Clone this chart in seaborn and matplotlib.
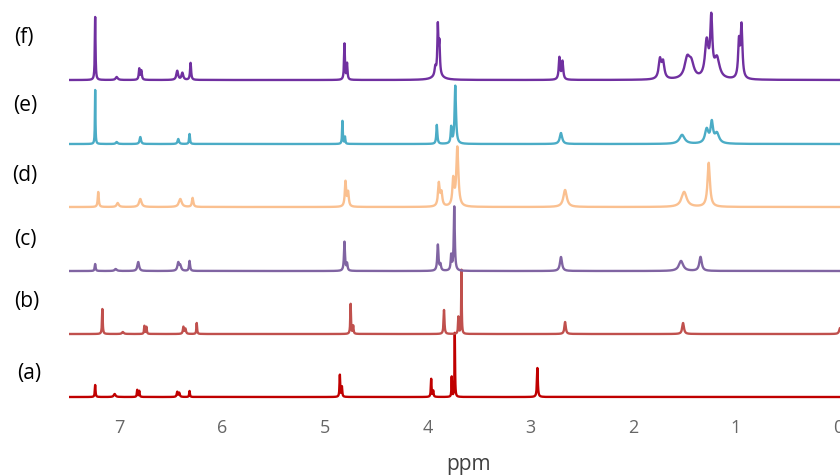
import numpy as np
import pandas as pd
import matplotlib
matplotlib.use("Agg")
import matplotlib.pyplot as plt
import seaborn as sns

# Stacked 1H NMR spectra, (a) at the bottom to (f) at the top.
# Each trace is a sum of Lorentzian lines: shift (ppm), height, half-width (ppm).
trace_names = ["(a)", "(b)", "(c)", "(d)", "(e)", "(f)"]
trace_colors = ["#C00000", "#C0504D", "#8064A2", "#FAC090", "#4BACC6", "#7030A0"]
trace_offsets = [0, 63, 126, 190, 253, 317]

a_shift = [7.24, 7.05, 6.83, 6.81, 6.44, 6.42, 6.32, 4.855, 4.835, 3.965, 3.945, 3.765, 3.735, 2.93]
a_height = [12, 3, 7, 6, 5, 4, 6, 22, 10, 18, 6, 20, 64, 29]
a_width = [0.004, 0.01, 0.004, 0.004, 0.006, 0.006, 0.004, 0.004, 0.004, 0.004, 0.004, 0.003, 0.003, 0.005]

b_shift = [7.17, 6.97, 6.76, 6.74, 6.38, 6.36, 6.25, 4.75, 4.725, 3.84, 3.70, 3.67, 2.66, 1.51, -0.02]
b_height = [25, 2, 8, 7, 7, 5, 11, 30, 8, 24, 17, 64, 12, 11, 6]
b_width = [0.004, 0.01, 0.004, 0.004, 0.006, 0.006, 0.004, 0.004, 0.004, 0.005, 0.004, 0.003, 0.008, 0.01, 0.01]

c_shift = [7.24, 7.04, 6.82, 6.43, 6.41, 6.32, 4.81, 4.785, 3.90, 3.875, 3.77, 3.74, 2.70, 1.53, 1.34]
c_height = [7, 2, 9, 8, 5, 10, 29, 7, 26, 6, 15, 64, 14, 10, 14]
c_width = [0.005, 0.012, 0.01, 0.01, 0.01, 0.006, 0.006, 0.006, 0.007, 0.007, 0.006, 0.006, 0.012, 0.025, 0.014]

d_shift = [7.21, 7.02, 6.80, 6.41, 6.29, 4.80, 4.775, 3.89, 3.865, 3.75, 3.71, 2.66, 1.50, 1.26]
d_height = [15, 4, 8, 8, 9, 25, 14, 23, 13, 26, 59, 17, 15, 44]
d_width = [0.006, 0.012, 0.014, 0.016, 0.008, 0.008, 0.008, 0.01, 0.01, 0.01, 0.012, 0.02, 0.03, 0.014]

e_shift = [7.24, 7.03, 6.80, 6.43, 6.32, 4.83, 4.805, 3.91, 3.77, 3.73, 2.70, 1.52, 1.28, 1.23, 1.18]
e_height = [54, 2, 7, 5, 10, 23, 7, 19, 16, 58, 11, 9, 14, 20, 10]
e_width = [0.003, 0.01, 0.008, 0.008, 0.005, 0.004, 0.004, 0.006, 0.006, 0.008, 0.014, 0.03, 0.02, 0.014, 0.025]

f_shift = [7.24, 7.03, 6.81, 6.79, 6.44, 6.39, 6.31, 4.81, 4.785, 3.925, 3.90, 3.885, 3.90, 2.715, 2.685,
           1.735, 1.705, 1.47, 1.43, 1.28, 1.235, 1.18, 0.965, 0.94]
f_height = [63, 3, 11, 9, 9, 7, 17, 36, 16, 8, 48, 30, 5, 22, 18,
            19, 16, 19, 14, 36, 56, 20, 36, 52]
f_width = [0.004, 0.012, 0.006, 0.006, 0.01, 0.01, 0.006, 0.005, 0.005, 0.008, 0.006, 0.006, 0.05, 0.008, 0.008,
           0.015, 0.015, 0.03, 0.03, 0.02, 0.012, 0.03, 0.01, 0.01]

peak_tables = [
    (a_shift, a_height, a_width),
    (b_shift, b_height, b_width),
    (c_shift, c_height, c_width),
    (d_shift, d_height, d_width),
    (e_shift, e_height, e_width),
    (f_shift, f_height, f_width),
]

x_ticks = [7, 6, 5, 4, 3, 2, 1, 0]
label_xy = [(29, 373), (27, 302), (25, 240), (25, 176), (25, 106), (24, 38)]

ppm = np.arange(-0.3, 7.5, 0.001)


def spectrum(shifts, heights, widths):
    y = np.zeros_like(ppm)
    for s, h, w in zip(shifts, heights, widths):
        y += h * w ** 2 / ((ppm - s) ** 2 + w ** 2)
    return y


frames = []
for name, off, (s, h, w) in zip(trace_names, trace_offsets, peak_tables):
    frames.append(pd.DataFrame({"ppm": ppm, "intensity": spectrum(s, h, w) + off, "trace": name}))
data = pd.concat(frames, ignore_index=True)

sns.set_style("white")
plt.rcParams["font.family"] = ["Open Sans", "DejaVu Sans"]

W, H = 840, 475
fig = plt.figure(figsize=(W / 100, H / 100), dpi=100)
ax = fig.add_axes([68.5 / W, 67 / H, 800.3 / W, 408 / H])

sns.lineplot(data=data, x="ppm", y="intensity", hue="trace", hue_order=trace_names,
             palette=trace_colors, estimator=None, sort=False, linewidth=1.7,
             legend=False, ax=ax)

ax.set_xlim(7.5, -0.3)
ax.set_ylim(-11, 397)
ax.set_xticks(x_ticks)
ax.set_xticklabels([str(t) for t in x_ticks])
ax.set_yticks([])
ax.set_ylabel("")
ax.set_xlabel("ppm", fontsize=15, color="#404040", labelpad=12)
ax.tick_params(axis="x", length=0, pad=8, labelsize=13, labelcolor="#666666")
for sp in ax.spines.values():
    sp.set_visible(False)

for name, (lx, ly) in zip(trace_names, label_xy):
    fig.text(lx / W, 1 - ly / H, name, fontsize=15, color="black", ha="center", va="center")

fig.savefig("out.png", dpi=100)
